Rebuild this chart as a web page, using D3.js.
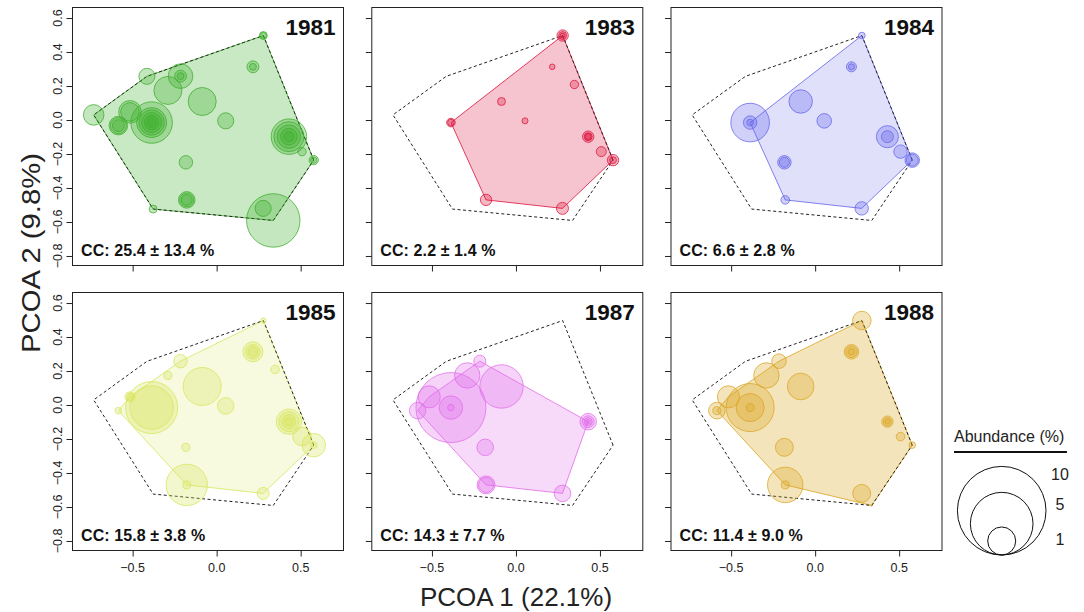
<!DOCTYPE html>
<html>
<head>
<meta charset="utf-8">
<script src="https://cdn.jsdelivr.net/npm/d3@7"></script>
<style>
  html, body { margin: 0; padding: 0; background: #fff; }
  svg { display: block; font-family: "Liberation Sans", Arial, Helvetica, sans-serif; }
</style>
</head>
<body>
<svg id="chart" width="1084" height="612"></svg>
<script>
// ---------------- data ----------------
const years = ["1981", "1983", "1984", "1985", "1987", "1988"];
const ccLabels = ["CC: 25.4 ± 13.4 %", "CC: 2.2 ± 1.4 %", "CC: 6.6 ± 2.8 %",
                  "CC: 15.8 ± 3.8 %", "CC: 14.3 ± 7.7 %", "CC: 11.4 ± 9.0 %"];

// PCOA coordinates of the 20 sampling points
const pcoa1 = [0.278, 0.216, 0.348, -0.415, -0.215, -0.290, -0.086, -0.732, -0.516, -0.585,
               -0.387, 0.054, 0.430, 0.508, 0.578, -0.183, -0.178, -0.378, 0.277, 0.337];
const pcoa2 = [0.497, 0.313, 0.209, 0.257, 0.258, 0.174, 0.109, 0.030, 0.048, -0.033,
               -0.015, -0.005, -0.098, -0.186, -0.236, -0.249, -0.470, -0.524, -0.520, -0.591];

// abundance (%) at each point, per year (several records per point)
const abund1981 = [[0.08, 0.05], [0.18, 0.06], [], [0.33], [0.77, 0.18, 0.06], [1.0], [1.0], [0.54],
  [0.65, 0.44], [0.44, 0.33, 0.18], [2.19, 1.15, 0.82, 0.51, 0.27, 0.11], [0.33],
  [1.6, 1.15, 0.70, 0.35, 0.13], [0.09], [0.11, 0.05], [0.23], [0.35, 0.25, 0.15], [0.08], [0.33], [3.64]];
const abund1983 = [[0.165, 0.08, 0.03], [0.04], [0.09], [], [], [], [0.08], [], [], [],
  [0.094, 0.055], [0.046], [0.165, 0.08, 0.046], [0.128], [0.165, 0.06], [], [0.165], [], [0.184], []];
const abund1984 = [[0.056], [0.128, 0.046], [], [], [], [], [0.70], [], [], [],
  [1.9, 0.23, 0.056], [0.27], [0.62, 0.184], [0.23], [0.27, 0.18], [0.23, 0.128], [0.094], [], [0.23], []];
const abund1985 = [[0.037], [0.51, 0.27, 0.128], [0.094], [], [0.23], [0.082], [1.84], [], [0.128, 0.0625], [0.056],
  [3.45, 2.4], [0.35], [0.82, 0.51, 0.25, 0.082], [0.44], [0.70, 0.056], [0.082], [2.18, 0.082], [], [0.184], []];
const abund1987 = [[], [], [], [], [0.184], [0.82], [2.4], [], [0.62], [0.35],
  [6.25, 0.70, 0.056], [], [0.35, 0.18, 0.08, 0.02], [], [], [0.35], [0.41, 0.29], [], [0.35], []];
const abund1988 = [[0.44], [0.27, 0.165, 0.056], [], [], [0.27], [0.82], [0.90], [], [0.62], [0.35, 0.082],
  [2.94, 1.0, 0.082], [], [0.165, 0.082, 0.03], [0.094], [0.056], [0.41], [1.6, 0.082], [], [0.41], [0.003]];
const abundByYear = [abund1981, abund1983, abund1984, abund1985, abund1987, abund1988];

const yTicks = [-0.8, -0.6, -0.4, -0.2, 0.0, 0.2, 0.4, 0.6];
const xTicks = [-0.5, 0.0, 0.5];
const legendValues = [10, 5, 1];
const xTitle = "PCOA 1 (22.1%)";
const yTitle = "PCOA 2 (9.8%)";
const legendTitle = "Abundance (%)";

// ---------------- styles ----------------
const yearColors = ["#3DAE2B", "#DC143C", "#6464EA", "#D6E65A", "#E26CEA", "#DAA520"];
const polyAlpha  = [0.28, 0.25, 0.2, 0.2, 0.26, 0.30];

// ---------------- layout ----------------
const svg = d3.select("#chart");
const colLeft = [72.5, 371.8, 671];
const rowTop = [7.5, 292.5];
const pw = 271, ph = 258;

const x = d3.scaleLinear().domain([-0.858, 0.755]).range([0, pw]);
const y = d3.scaleLinear().domain([-0.856, 0.662]).range([ph, 0]);
const r = d3.scaleSqrt().domain([0, 10]).range([0, 44.3]);
const fmt = d3.format(".1f");

const allPts = d3.range(pcoa1.length)
  .filter(i => abundByYear.some(a => a[i].length > 0))
  .map(i => [x(pcoa1[i]), y(pcoa2[i])]);
const globalHull = d3.polygonHull(allPts);

const defs = svg.append("defs");
defs.append("clipPath").attr("id", "panelclip")
  .append("rect").attr("x", 0).attr("y", 0).attr("width", pw).attr("height", ph);

years.forEach((yr, k) => {
  const col = k % 3, row = Math.floor(k / 3);
  const g = svg.append("g").attr("transform", `translate(${colLeft[col]},${rowTop[row]})`);
  const color = yearColors[k];
  const ab = abundByYear[k];

  const present = d3.range(pcoa1.length).filter(i => ab[i].length > 0);
  const hull = d3.polygonHull(present.map(i => [x(pcoa1[i]), y(pcoa2[i])]));

  const plot = g.append("g").attr("clip-path", "url(#panelclip)");
  plot.append("path")
    .attr("d", "M" + hull.join("L") + "Z")
    .attr("fill", color).attr("fill-opacity", polyAlpha[k])
    .attr("stroke", color).attr("stroke-opacity", 0.8).attr("stroke-width", 1);

  plot.append("path")
    .attr("d", "M" + globalHull.join("L") + "Z")
    .attr("fill", "none").attr("stroke", "#222").attr("stroke-width", 1)
    .attr("stroke-dasharray", "3,2.5");

  const circles = [];
  present.forEach(i => {
    ab[i].slice().sort((a, b) => b - a).forEach(v => circles.push({ i, v }));
  });
  plot.selectAll("circle.pt").data(circles).enter().append("circle")
    .attr("class", "pt")
    .attr("cx", d => x(pcoa1[d.i]))
    .attr("cy", d => y(pcoa2[d.i]))
    .attr("r", d => r(d.v))
    .attr("fill", color).attr("fill-opacity", 0.3)
    .attr("stroke", color).attr("stroke-opacity", 0.75).attr("stroke-width", 1);

  // axes
  const ya = g.append("g").call(d3.axisLeft(y).tickValues(yTicks).tickSize(6).tickFormat(""));
  ya.select(".domain").remove();
  ya.selectAll("line").attr("stroke", "#222");
  const xa = g.append("g").attr("transform", `translate(0,${ph})`)
    .call(d3.axisBottom(x).tickValues(xTicks).tickSize(6).tickFormat(""));
  xa.select(".domain").remove();
  xa.selectAll("line").attr("stroke", "#222");

  if (col === 0) {
    g.selectAll("text.ytl").data(yTicks).enter().append("text")
      .attr("class", "ytl")
      .attr("transform", d => `translate(${-10.5},${y(d)}) rotate(-90)`)
      .attr("text-anchor", "middle")
      .attr("font-size", 12.5).attr("fill", "#222")
      .text(d => fmt(d));
  }
  if (row === 1) {
    g.selectAll("text.xtl").data(xTicks).enter().append("text")
      .attr("class", "xtl")
      .attr("x", d => x(d)).attr("y", ph + 21)
      .attr("text-anchor", "middle")
      .attr("font-size", 12.5).attr("fill", "#222")
      .text(d => fmt(d));
  }

  // box
  g.append("rect").attr("x", 0).attr("y", 0).attr("width", pw).attr("height", ph)
    .attr("fill", "none").attr("stroke", "#222").attr("stroke-width", 1);

  // labels
  g.append("text").attr("x", pw - 8).attr("y", 27.5)
    .attr("text-anchor", "end").attr("font-size", 22.5).attr("font-weight", "bold")
    .attr("fill", "#111").text(yr);
  g.append("text").attr("x", 8.5).attr("y", ph - 10)
    .attr("font-size", 16).attr("font-weight", "bold").attr("letter-spacing", 0.1)
    .attr("fill", "#111").text(ccLabels[k]);
});

// axis titles
svg.append("text").attr("x", 516).attr("y", 606)
  .attr("text-anchor", "middle").attr("font-size", 26).attr("fill", "#222").text(xTitle);
svg.append("text").attr("transform", "translate(40,253) rotate(-90)")
  .attr("text-anchor", "middle").attr("font-size", 26).attr("fill", "#222")
  .attr("textLength", 200).attr("lengthAdjust", "spacingAndGlyphs").text(yTitle);

// legend
const lg = svg.append("g");
lg.append("text").attr("x", 954).attr("y", 441.5).attr("font-size", 16).attr("fill", "#222").text(legendTitle);
lg.append("line").attr("x1", 954).attr("x2", 1067).attr("y1", 452).attr("y2", 452)
  .attr("stroke", "#111").attr("stroke-width", 2);
const lcx = 1001.7, lbottom = 555;
lg.selectAll("circle").data(legendValues).enter().append("circle")
  .attr("cx", lcx).attr("cy", d => lbottom - r(d)).attr("r", d => r(d))
  .attr("fill", "none").attr("stroke", "#111").attr("stroke-width", 1);
const labelOffset = [14, 18, 18];
lg.selectAll("text.lv").data(legendValues).enter().append("text")
  .attr("class", "lv")
  .attr("x", 1060)
  .attr("y", (d, i) => lbottom - 2 * r(d) + labelOffset[i])
  .attr("text-anchor", "middle").attr("font-size", 16).attr("fill", "#222")
  .text(d => d);
</script>
</body>
</html>
